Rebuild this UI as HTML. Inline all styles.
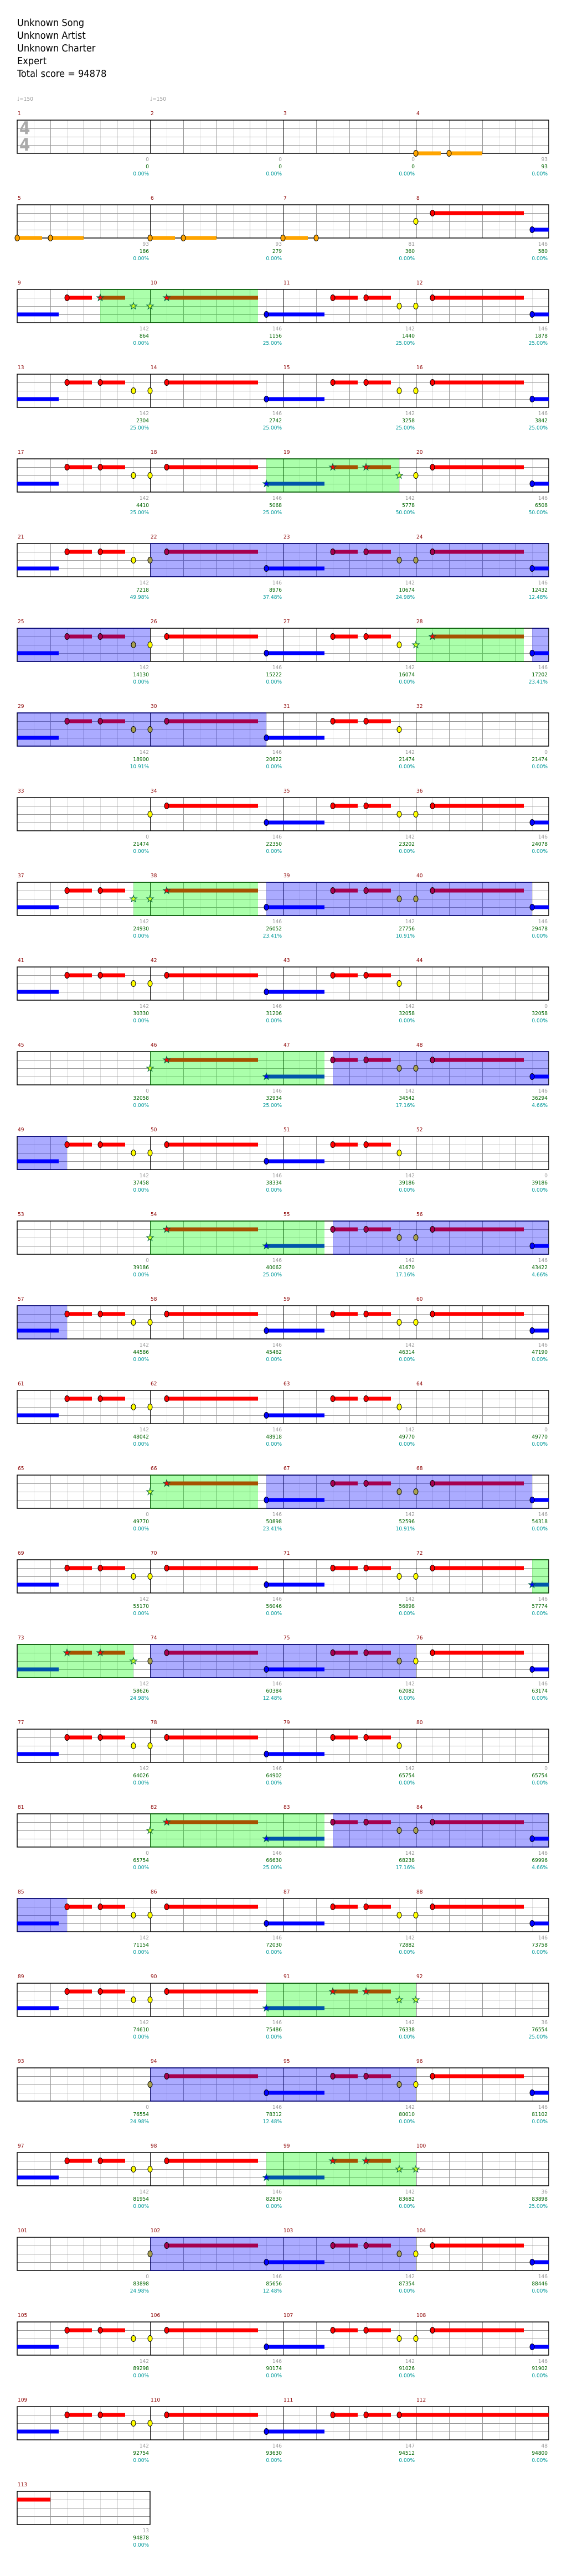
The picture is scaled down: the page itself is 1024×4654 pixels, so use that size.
<!DOCTYPE html>
<html><head><meta charset="utf-8">
<style>
html,body{margin:0;padding:0;background:#fff;}
body{width:1024px;height:4654px;position:relative;overflow:hidden;font-family:"DejaVu Sans Condensed","Liberation Sans Narrow","Liberation Sans",sans-serif;}
#g{position:absolute;left:0;top:0;z-index:0;}
.t{position:absolute;left:31px;font-size:18px;line-height:23px;color:#000;z-index:1;}
.r{position:absolute;left:0;width:1024px;height:120px;z-index:1;}
.m{position:absolute;top:0;width:240px;height:120px;font-size:10px;line-height:12px;}
.c0{left:31px}.c1{left:271px}.c2{left:511px}.c3{left:751px}
.m b{position:absolute;left:1px;top:3px;font-weight:normal;color:#8b0000;}
.m i,.m u,.m s{position:absolute;right:2px;font-style:normal;text-decoration:none;white-space:nowrap;}
.m i{top:86px;color:#999;}
.m u{top:99px;color:#006400;}
.m s{top:112px;color:#009999;}
.ts{position:absolute;left:35px;font-size:31px;font-weight:bold;color:#aaa;line-height:30px;z-index:2;}
.tp{position:absolute;top:174px;font-size:10px;color:#999;z-index:1;}
</style></head><body>
<svg id="g" width="1024" height="4654" xmlns="http://www.w3.org/2000/svg"></svg>
<div class="t" style="top:30px">Unknown Song<br>Unknown Artist<br>Unknown Charter<br>Expert<br>Total score = 94878</div>
<div class="tp" style="left:31px">♩=150</div>
<div class="tp" style="left:271px">♩=150</div>
<div class="ts" style="top:217px">4</div>
<div class="ts" style="top:247px">4</div>

<div class="r" style="top:197px"><div class="m c0"><b>1</b><i>0</i><u>0</u><s>0.00%</s></div><div class="m c1"><b>2</b><i>0</i><u>0</u><s>0.00%</s></div><div class="m c2"><b>3</b><i>0</i><u>0</u><s>0.00%</s></div><div class="m c3"><b>4</b><i>93</i><u>93</u><s>0.00%</s></div></div>
<div class="r" style="top:350px"><div class="m c0"><b>5</b><i>93</i><u>186</u><s>0.00%</s></div><div class="m c1"><b>6</b><i>93</i><u>279</u><s>0.00%</s></div><div class="m c2"><b>7</b><i>81</i><u>360</u><s>0.00%</s></div><div class="m c3"><b>8</b><i>146</i><u>580</u><s>0.00%</s></div></div>
<div class="r" style="top:503px"><div class="m c0"><b>9</b><i>142</i><u>864</u><s>0.00%</s></div><div class="m c1"><b>10</b><i>146</i><u>1156</u><s>25.00%</s></div><div class="m c2"><b>11</b><i>142</i><u>1440</u><s>25.00%</s></div><div class="m c3"><b>12</b><i>146</i><u>1878</u><s>25.00%</s></div></div>
<div class="r" style="top:656px"><div class="m c0"><b>13</b><i>142</i><u>2304</u><s>25.00%</s></div><div class="m c1"><b>14</b><i>146</i><u>2742</u><s>25.00%</s></div><div class="m c2"><b>15</b><i>142</i><u>3258</u><s>25.00%</s></div><div class="m c3"><b>16</b><i>146</i><u>3842</u><s>25.00%</s></div></div>
<div class="r" style="top:809px"><div class="m c0"><b>17</b><i>142</i><u>4410</u><s>25.00%</s></div><div class="m c1"><b>18</b><i>146</i><u>5068</u><s>25.00%</s></div><div class="m c2"><b>19</b><i>142</i><u>5778</u><s>50.00%</s></div><div class="m c3"><b>20</b><i>146</i><u>6508</u><s>50.00%</s></div></div>
<div class="r" style="top:962px"><div class="m c0"><b>21</b><i>142</i><u>7218</u><s>49.98%</s></div><div class="m c1"><b>22</b><i>146</i><u>8976</u><s>37.48%</s></div><div class="m c2"><b>23</b><i>142</i><u>10674</u><s>24.98%</s></div><div class="m c3"><b>24</b><i>146</i><u>12432</u><s>12.48%</s></div></div>
<div class="r" style="top:1115px"><div class="m c0"><b>25</b><i>142</i><u>14130</u><s>0.00%</s></div><div class="m c1"><b>26</b><i>146</i><u>15222</u><s>0.00%</s></div><div class="m c2"><b>27</b><i>142</i><u>16074</u><s>0.00%</s></div><div class="m c3"><b>28</b><i>146</i><u>17202</u><s>23.41%</s></div></div>
<div class="r" style="top:1268px"><div class="m c0"><b>29</b><i>142</i><u>18900</u><s>10.91%</s></div><div class="m c1"><b>30</b><i>146</i><u>20622</u><s>0.00%</s></div><div class="m c2"><b>31</b><i>142</i><u>21474</u><s>0.00%</s></div><div class="m c3"><b>32</b><i>0</i><u>21474</u><s>0.00%</s></div></div>
<div class="r" style="top:1421px"><div class="m c0"><b>33</b><i>0</i><u>21474</u><s>0.00%</s></div><div class="m c1"><b>34</b><i>146</i><u>22350</u><s>0.00%</s></div><div class="m c2"><b>35</b><i>142</i><u>23202</u><s>0.00%</s></div><div class="m c3"><b>36</b><i>146</i><u>24078</u><s>0.00%</s></div></div>
<div class="r" style="top:1574px"><div class="m c0"><b>37</b><i>142</i><u>24930</u><s>0.00%</s></div><div class="m c1"><b>38</b><i>146</i><u>26052</u><s>23.41%</s></div><div class="m c2"><b>39</b><i>142</i><u>27756</u><s>10.91%</s></div><div class="m c3"><b>40</b><i>146</i><u>29478</u><s>0.00%</s></div></div>
<div class="r" style="top:1727px"><div class="m c0"><b>41</b><i>142</i><u>30330</u><s>0.00%</s></div><div class="m c1"><b>42</b><i>146</i><u>31206</u><s>0.00%</s></div><div class="m c2"><b>43</b><i>142</i><u>32058</u><s>0.00%</s></div><div class="m c3"><b>44</b><i>0</i><u>32058</u><s>0.00%</s></div></div>
<div class="r" style="top:1880px"><div class="m c0"><b>45</b><i>0</i><u>32058</u><s>0.00%</s></div><div class="m c1"><b>46</b><i>146</i><u>32934</u><s>25.00%</s></div><div class="m c2"><b>47</b><i>142</i><u>34542</u><s>17.16%</s></div><div class="m c3"><b>48</b><i>146</i><u>36294</u><s>4.66%</s></div></div>
<div class="r" style="top:2033px"><div class="m c0"><b>49</b><i>142</i><u>37458</u><s>0.00%</s></div><div class="m c1"><b>50</b><i>146</i><u>38334</u><s>0.00%</s></div><div class="m c2"><b>51</b><i>142</i><u>39186</u><s>0.00%</s></div><div class="m c3"><b>52</b><i>0</i><u>39186</u><s>0.00%</s></div></div>
<div class="r" style="top:2186px"><div class="m c0"><b>53</b><i>0</i><u>39186</u><s>0.00%</s></div><div class="m c1"><b>54</b><i>146</i><u>40062</u><s>25.00%</s></div><div class="m c2"><b>55</b><i>142</i><u>41670</u><s>17.16%</s></div><div class="m c3"><b>56</b><i>146</i><u>43422</u><s>4.66%</s></div></div>
<div class="r" style="top:2339px"><div class="m c0"><b>57</b><i>142</i><u>44586</u><s>0.00%</s></div><div class="m c1"><b>58</b><i>146</i><u>45462</u><s>0.00%</s></div><div class="m c2"><b>59</b><i>142</i><u>46314</u><s>0.00%</s></div><div class="m c3"><b>60</b><i>146</i><u>47190</u><s>0.00%</s></div></div>
<div class="r" style="top:2492px"><div class="m c0"><b>61</b><i>142</i><u>48042</u><s>0.00%</s></div><div class="m c1"><b>62</b><i>146</i><u>48918</u><s>0.00%</s></div><div class="m c2"><b>63</b><i>142</i><u>49770</u><s>0.00%</s></div><div class="m c3"><b>64</b><i>0</i><u>49770</u><s>0.00%</s></div></div>
<div class="r" style="top:2645px"><div class="m c0"><b>65</b><i>0</i><u>49770</u><s>0.00%</s></div><div class="m c1"><b>66</b><i>146</i><u>50898</u><s>23.41%</s></div><div class="m c2"><b>67</b><i>142</i><u>52596</u><s>10.91%</s></div><div class="m c3"><b>68</b><i>146</i><u>54318</u><s>0.00%</s></div></div>
<div class="r" style="top:2798px"><div class="m c0"><b>69</b><i>142</i><u>55170</u><s>0.00%</s></div><div class="m c1"><b>70</b><i>146</i><u>56046</u><s>0.00%</s></div><div class="m c2"><b>71</b><i>142</i><u>56898</u><s>0.00%</s></div><div class="m c3"><b>72</b><i>146</i><u>57774</u><s>0.00%</s></div></div>
<div class="r" style="top:2951px"><div class="m c0"><b>73</b><i>142</i><u>58626</u><s>24.98%</s></div><div class="m c1"><b>74</b><i>146</i><u>60384</u><s>12.48%</s></div><div class="m c2"><b>75</b><i>142</i><u>62082</u><s>0.00%</s></div><div class="m c3"><b>76</b><i>146</i><u>63174</u><s>0.00%</s></div></div>
<div class="r" style="top:3104px"><div class="m c0"><b>77</b><i>142</i><u>64026</u><s>0.00%</s></div><div class="m c1"><b>78</b><i>146</i><u>64902</u><s>0.00%</s></div><div class="m c2"><b>79</b><i>142</i><u>65754</u><s>0.00%</s></div><div class="m c3"><b>80</b><i>0</i><u>65754</u><s>0.00%</s></div></div>
<div class="r" style="top:3257px"><div class="m c0"><b>81</b><i>0</i><u>65754</u><s>0.00%</s></div><div class="m c1"><b>82</b><i>146</i><u>66630</u><s>25.00%</s></div><div class="m c2"><b>83</b><i>142</i><u>68238</u><s>17.16%</s></div><div class="m c3"><b>84</b><i>146</i><u>69996</u><s>4.66%</s></div></div>
<div class="r" style="top:3410px"><div class="m c0"><b>85</b><i>142</i><u>71154</u><s>0.00%</s></div><div class="m c1"><b>86</b><i>146</i><u>72030</u><s>0.00%</s></div><div class="m c2"><b>87</b><i>142</i><u>72882</u><s>0.00%</s></div><div class="m c3"><b>88</b><i>146</i><u>73758</u><s>0.00%</s></div></div>
<div class="r" style="top:3563px"><div class="m c0"><b>89</b><i>142</i><u>74610</u><s>0.00%</s></div><div class="m c1"><b>90</b><i>146</i><u>75486</u><s>0.00%</s></div><div class="m c2"><b>91</b><i>142</i><u>76338</u><s>0.00%</s></div><div class="m c3"><b>92</b><i>36</i><u>76554</u><s>25.00%</s></div></div>
<div class="r" style="top:3716px"><div class="m c0"><b>93</b><i>0</i><u>76554</u><s>24.98%</s></div><div class="m c1"><b>94</b><i>146</i><u>78312</u><s>12.48%</s></div><div class="m c2"><b>95</b><i>142</i><u>80010</u><s>0.00%</s></div><div class="m c3"><b>96</b><i>146</i><u>81102</u><s>0.00%</s></div></div>
<div class="r" style="top:3869px"><div class="m c0"><b>97</b><i>142</i><u>81954</u><s>0.00%</s></div><div class="m c1"><b>98</b><i>146</i><u>82830</u><s>0.00%</s></div><div class="m c2"><b>99</b><i>142</i><u>83682</u><s>0.00%</s></div><div class="m c3"><b>100</b><i>36</i><u>83898</u><s>25.00%</s></div></div>
<div class="r" style="top:4022px"><div class="m c0"><b>101</b><i>0</i><u>83898</u><s>24.98%</s></div><div class="m c1"><b>102</b><i>146</i><u>85656</u><s>12.48%</s></div><div class="m c2"><b>103</b><i>142</i><u>87354</u><s>0.00%</s></div><div class="m c3"><b>104</b><i>146</i><u>88446</u><s>0.00%</s></div></div>
<div class="r" style="top:4175px"><div class="m c0"><b>105</b><i>142</i><u>89298</u><s>0.00%</s></div><div class="m c1"><b>106</b><i>146</i><u>90174</u><s>0.00%</s></div><div class="m c2"><b>107</b><i>142</i><u>91026</u><s>0.00%</s></div><div class="m c3"><b>108</b><i>146</i><u>91902</u><s>0.00%</s></div></div>
<div class="r" style="top:4328px"><div class="m c0"><b>109</b><i>142</i><u>92754</u><s>0.00%</s></div><div class="m c1"><b>110</b><i>146</i><u>93630</u><s>0.00%</s></div><div class="m c2"><b>111</b><i>147</i><u>94512</u><s>0.00%</s></div><div class="m c3"><b>112</b><i>48</i><u>94800</u><s>0.00%</s></div></div>
<div class="r" style="top:4481px"><div class="m c0"><b>113</b><i>13</i><u>94878</u><s>0.00%</s></div></div>

<script>
(function(){
var L=31,BT=217,RS=153,s='';
function T(r){return BT+RS*r;}
var G=[[34.5,39.25],[71.5,75.5],[108,111.25],[147.5,151.25],[180,185.25],[212,217.25],[260,263.25],[287.5,291.5],[324,329.25],[359.5,364],[391.5,396]];
var B=[[84,100],[111.5,119.5],[151.5,159.5],[185.5,193.5],[217.5,225.5],[263.5,271.5],[292,300],[329.5,337.5],[372,380],[404,412]];
var N=[];
function n(t,l,len){N.push([t,l,len||0]);}
function odd(m){var b=(m-1)*4;n(b+1.5,1,.75);n(b+2.5,1,.75);n(b+3.5,2,0);}
function even(m){var b=(m-1)*4;n(b,2,0);n(b+.5,1,2.75);n(b+3.5,3,1.75);}
function pairs(a,z){for(var m=a;m<=z;m++){if(m%2)odd(m);else even(m);}}
[4,5,6].forEach(function(m){var b=(m-1)*4;n(b,4,.75);n(b+1,4,1);});
n(24,4,.75);n(25,4,0);
even(8);pairs(9,30);odd(31);even(34);pairs(35,42);odd(43);even(46);pairs(47,50);odd(51);
even(54);pairs(55,62);odd(63);even(66);pairs(67,78);odd(79);even(82);pairs(83,90);odd(91);
n(364,2,0);even(94);pairs(95,98);odd(99);n(396,2,0);even(102);pairs(103,110);
n(441.5,1,.75);n(442.5,1,.75);n(443.5,1,5.5);
function seg(t0,t1,cb){var k=0;while(t0<t1-1e-9&&k<50){k++;var r=Math.floor(t0/16+1e-9);var e=Math.min(t1,(r+1)*16);cb(r,L+(t0-16*r)*60,L+(e-16*r)*60);t0=e;}}
function inG(t){for(var i=0;i<G.length;i++)if(t>=G[i][0]-1e-6&&t<=G[i][1]+1e-6)return true;return false;}
function inB(t){for(var i=0;i<B.length;i++)if(t>=B[i][0]-1e-6&&t<B[i][1]-1e-6)return true;return false;}
var LC=['#00c000','#ff0000','#ffff00','#0000ff','#ffa500'];
// grids
for(var r=0;r<29;r++){
  var y=T(r),nm=(r==28)?1:4,w=240*nm;
  s+='<rect x="'+L+'" y="'+y+'" width="'+w+'" height="60" fill="#fff"/>';
  for(var k=1;k<nm*8;k++){if(k%8==0)continue;var x=L+30*k+.5;s+='<line x1="'+x+'" y1="'+y+'" x2="'+x+'" y2="'+(y+60)+'" stroke="'+(k%2?'#dddddd':'#999999')+'" stroke-width="1"/>';}
  for(var j=1;j<4;j++){var yy=y+15*j+.5;s+='<line x1="'+L+'" y1="'+yy+'" x2="'+(L+w)+'" y2="'+yy+'" stroke="#999" stroke-width="1"/>';}
  for(var k=1;k<nm;k++){var x=L+240*k+.5;s+='<line x1="'+x+'" y1="'+y+'" x2="'+x+'" y2="'+(y+60)+'" stroke="#000" stroke-width="1"/>';}
}
// highlights
G.forEach(function(g){seg(g[0],g[1],function(r,x0,x1){var y=T(r);s+='<rect x="'+x0+'" y="'+y+'" width="'+(x1-x0)+'" height="60" fill="rgba(0,255,0,0.33)"/>';});});
B.forEach(function(g){seg(g[0],g[1],function(r,x0,x1){var y=T(r);s+='<rect x="'+x0+'" y="'+y+'" width="'+(x1-x0)+'" height="60" fill="rgba(0,0,255,0.33)"/>';});});
// borders
for(var r=0;r<29;r++){var nm=(r==28)?1:4;s+='<rect x="'+L+'" y="'+T(r)+'" width="'+(240*nm)+'" height="60" fill="none" stroke="#000" stroke-width="1.5"/>';}
G.forEach(function(g){seg(g[0],g[1],function(r,x0,x1){var y=T(r);s+='<line x1="'+x0+'" y1="'+y+'" x2="'+x1+'" y2="'+y+'" stroke="#006400" stroke-width="1.5"/><line x1="'+x0+'" y1="'+(y+60)+'" x2="'+x1+'" y2="'+(y+60)+'" stroke="#006400" stroke-width="1.5"/>';});});
B.forEach(function(g){seg(g[0],g[1],function(r,x0,x1){var y=T(r);s+='<line x1="'+x0+'" y1="'+y+'" x2="'+x1+'" y2="'+y+'" stroke="#000080" stroke-width="1.5"/><line x1="'+x0+'" y1="'+(y+60)+'" x2="'+x1+'" y2="'+(y+60)+'" stroke="#000080" stroke-width="1.5"/>';});});
// sustains
N.forEach(function(nt){if(nt[2]<=0)return;var t=nt[0],l=nt[1],c=LC[l];
  if(inG(t)){c=l==1?'#a65200':l==3?'#0055aa':l==2?'#a6a600':c;}
  else if(inB(t)){c=l==1?'#a6004f':l==2?'#a6a650':c;}
  seg(t,t+nt[2],function(r,x0,x1){var y=T(r)+15*l;s+='<rect x="'+x0+'" y="'+(y-3.5)+'" width="'+(x1-x0)+'" height="7" fill="'+c+'"/>';});
});
function star(cx,cy,f){var p=[];for(var i=0;i<10;i++){var a=-Math.PI/2+i*Math.PI/5,rr=i%2?2.6:6.5;p.push((cx+rr*Math.cos(a)).toFixed(1)+','+(cy+rr*Math.sin(a)).toFixed(1));}
  return '<polygon points="'+p.join(' ')+'" fill="'+f+'" stroke="#064" stroke-width="1"/>';}
N.forEach(function(nt){var t=nt[0],l=nt[1];var r=Math.floor(t/16+1e-9);var x=L+(t-16*r)*60,y=T(r)+15*l;
  if(inG(t)){var f=l==2?'#ccff22':LC[l];s+=star(x,y,f);}
  else{var f=LC[l];if(inB(t)){f=l==1?'#a6004f':l==2?'#a8a050':f;}
    s+='<ellipse cx="'+x+'" cy="'+y+'" rx="4" ry="5.5" fill="'+f+'" stroke="#000" stroke-width="1"/>';}
});
document.getElementById('g').innerHTML=s;
})();
</script>
</body></html>
